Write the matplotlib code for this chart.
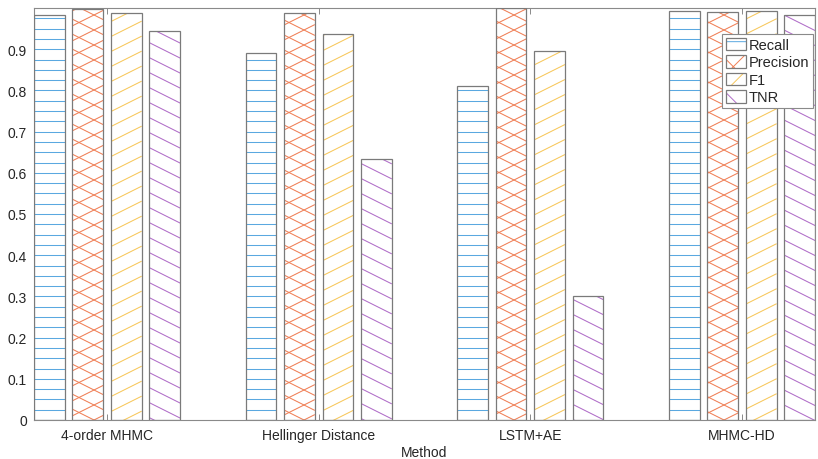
import matplotlib
matplotlib.use("Agg")
import matplotlib.pyplot as plt
import numpy as np
from matplotlib.collections import LineCollection
from matplotlib.patches import Patch
from matplotlib.legend_handler import HandlerTuple

methods = ["4-order MHMC", "Hellinger Distance", "LSTM+AE", "MHMC-HD"]
metrics = ["Recall", "Precision", "F1", "TNR"]
recall = [0.983, 0.891, 0.811, 0.993]
precision = [0.997, 0.989, 1.000, 0.991]
f1 = [0.989, 0.938, 0.896, 0.993]
tnr = [0.944, 0.633, 0.302, 0.984]
yticks = [0, 0.1, 0.2, 0.3, 0.4, 0.5, 0.6, 0.7, 0.8, 0.9]

series = [recall, precision, f1, tnr]
hatch_colors = ["#5aa8e0", "#f07f55", "#f7c75a", "#b06cc8"]
# hatch line families in pixel space: (slope, vertical spacing in px)
patterns = [[(0.0, 10.3)], [(0.5, 15.0), (-0.5, 15.0)], [(0.5, 15.0)], [(-0.5, 15.0)]]
legend_hatch = ["-", "x", "//", "\\"]
edge = "#7a7a7a"
axis_gray = "#8a8a8a"
text_col = "#262626"

plt.rcParams["font.family"] = ["Liberation Sans", "DejaVu Sans"]
plt.rcParams["hatch.linewidth"] = 0.7

W, H = 818, 460
fig = plt.figure(figsize=(W / 100, H / 100), dpi=100)
ax = fig.add_axes([34 / W, 39 / H, 781 / W, 412 / H])
ax.set_xlim(0.655, 4.345)
ax.set_ylim(0, 1)

x = np.arange(1, len(methods) + 1)
n = len(series)
pitch = min(0.8, n / (n + 1.5)) / n
width = pitch * 0.8

# pixels per data unit
(px0, py0), (px1, py1) = ax.transData.transform([(0.655, 0.0), (4.345, 1.0)])
sx = (px1 - px0) / (4.345 - 0.655)
sy = (py1 - py0) / 1.0


def hatch_segments(x0, x1, y0, y1, families):
    X0, X1 = (x0 - 0.655) * sx, (x1 - 0.655) * sx
    Y0, Y1 = y0 * sy, y1 * sy
    segs = []
    for s, sp in families:
        cands = [Y0 - s * X0, Y0 - s * X1, Y1 - s * X0, Y1 - s * X1]
        kmin = int(np.floor(min(cands) / sp)) - 1
        kmax = int(np.ceil(max(cands) / sp)) + 1
        for k in range(kmin, kmax + 1):
            c = k * sp
            segs.append([(X0 / sx + 0.655, (s * X0 + c) / sy),
                         (X1 / sx + 0.655, (s * X1 + c) / sy)])
    return segs


for i, vals in enumerate(series):
    off = (i - (n - 1) / 2) * pitch
    bars = ax.bar(x + off, vals, width, facecolor="white", edgecolor="none",
                  zorder=2)
    for rect in bars:
        bx0 = rect.get_x()
        bx1 = bx0 + rect.get_width()
        lc = LineCollection(hatch_segments(bx0, bx1, 0, rect.get_height(), patterns[i]),
                            colors=hatch_colors[i], linewidths=0.75, zorder=2.5)
        ax.add_collection(lc, autolim=False)
        lc.set_clip_path(rect)
    ax.bar(x + off, vals, width, fill=False, edgecolor=edge, linewidth=0.9, zorder=3)

ax.set_xlim(0.655, 4.345)
ax.set_ylim(0, 1)
ax.set_xticks(x)
ax.set_xticklabels(methods)
ax.set_yticks(yticks)
ax.set_yticklabels([f"{v:g}" for v in yticks])
ax.tick_params(direction="in", length=4, top=True, color=axis_gray,
               labelcolor=text_col, labelsize=10, width=0.7)
ax.tick_params(axis="x", pad=6)
ax.tick_params(axis="y", pad=5)
for sp in ax.spines.values():
    sp.set_color(axis_gray)
    sp.set_linewidth(0.8)
ax.set_xlabel("Method", fontsize=10, color=text_col, labelpad=2)

handles = []
for i in range(n):
    hp = Patch(facecolor="white", edgecolor=hatch_colors[i], hatch=legend_hatch[i], linewidth=0)
    op = Patch(fill=False, edgecolor=edge, linewidth=0.9)
    handles.append((hp, op))
leg = ax.legend(handles, metrics, handler_map={tuple: HandlerTuple(ndivide=1, pad=0)},
                loc="upper right", bbox_to_anchor=(0.997, 0.937), borderaxespad=0,
                fancybox=False, framealpha=1, edgecolor=axis_gray, fontsize=10.5,
                handlelength=1.35, handleheight=0.95, labelspacing=0.22,
                handletextpad=0.2, borderpad=0.25)
leg.get_frame().set_linewidth(0.8)
for t in leg.get_texts():
    t.set_color(text_col)
leg.set_zorder(5)

fig.savefig("out.png", dpi=100)
